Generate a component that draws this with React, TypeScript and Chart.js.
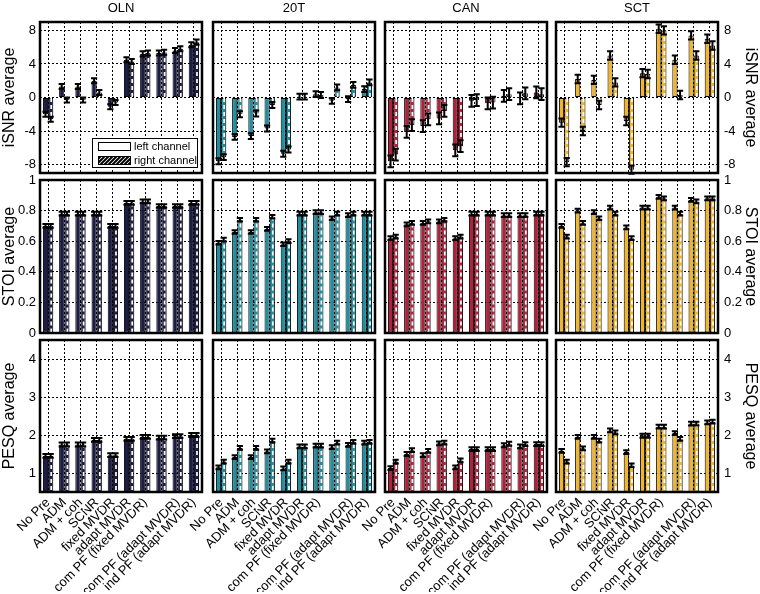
import React, { useEffect, useRef } from 'react';
import { Chart, registerables } from 'chart.js';

Chart.register(...registerables);

const FONT = "'Liberation Sans', Arial, Helvetica, sans-serif";

// ---------- data ----------
const categories = [
  'No Pre', 'ADM', 'ADM + coh', 'SCNR', 'fixed MVDR', 'adapt MVDR',
  'com PF (fixed MVDR)', '', 'com PF (adapt MVDR)', 'ind PF (adapt MVDR)',
];
const conditions = ['OLN', '20T', 'CAN', 'SCT'];
const conditionColors = ['#1c1c46', '#1f8e9e', '#b2203c', '#f0b52c'];
const legendLabels = ['left channel', 'right channel'];

const metricLabels = ['iSNR average', 'STOI average', 'PESQ average'];
const metricMin = [-9, 0, 0.5];
const metricMax = [9, 1, 4.5];
const isnrTicks = [-8, -4, 0, 4, 8];
const stoiTicks = [0, 0.2, 0.4, 0.6, 0.8, 1];
const pesqTicks = [1, 2, 3, 4];

// iSNR
const isnrOLN_L = [-2.0, 1.3, 1.3, 2.0, -1.1, 4.5, 5.2, 5.3, 5.6, 6.3];
const isnrOLN_R = [-2.6, -0.3, -0.3, 0.6, -0.6, 4.3, 5.3, 5.4, 5.8, 6.6];
const isnr20T_L = [-7.6, -4.7, -4.6, -3.7, -6.7, 0.1, 0.4, -0.4, -0.2, 1.0];
const isnr20T_R = [-7.1, -2.0, -1.9, -0.9, -6.2, 0.1, 0.3, 1.2, 1.5, 1.8];
const isnrCAN_L = [-7.6, -4.1, -3.4, -2.5, -6.3, -0.4, -0.7, 0.2, -0.1, 0.6];
const isnrCAN_R = [-6.8, -3.3, -2.6, -1.6, -5.8, -0.3, -0.6, 0.4, 0.5, 0.4];
const isnrSCT_L = [-3.0, 2.2, 2.1, 5.0, -2.8, 2.9, 8.2, 4.5, 7.4, 7.0];
const isnrSCT_R = [-7.7, -4.0, -0.9, 1.8, -8.6, 2.8, 8.0, 0.3, 5.0, 6.2];

// STOI
const stoiOLN_L = [0.70, 0.78, 0.78, 0.78, 0.70, 0.85, 0.86, 0.83, 0.83, 0.85];
const stoiOLN_R = [0.70, 0.78, 0.78, 0.78, 0.70, 0.85, 0.86, 0.83, 0.83, 0.85];
const stoi20T_L = [0.59, 0.66, 0.66, 0.68, 0.58, 0.78, 0.79, 0.75, 0.77, 0.78];
const stoi20T_R = [0.61, 0.74, 0.74, 0.76, 0.60, 0.78, 0.79, 0.78, 0.78, 0.78];
const stoiCAN_L = [0.62, 0.71, 0.72, 0.73, 0.62, 0.78, 0.78, 0.77, 0.77, 0.78];
const stoiCAN_R = [0.63, 0.72, 0.73, 0.74, 0.63, 0.78, 0.78, 0.77, 0.77, 0.78];
const stoiSCT_L = [0.70, 0.80, 0.79, 0.82, 0.69, 0.82, 0.89, 0.82, 0.87, 0.88];
const stoiSCT_R = [0.63, 0.72, 0.75, 0.78, 0.62, 0.82, 0.88, 0.78, 0.86, 0.88];

// PESQ
const pesqOLN_L = [1.45, 1.75, 1.75, 1.87, 1.47, 1.90, 1.95, 1.93, 1.97, 2.00];
const pesqOLN_R = [1.45, 1.75, 1.75, 1.87, 1.47, 1.90, 1.95, 1.93, 1.97, 2.00];
const pesq20T_L = [1.15, 1.42, 1.42, 1.57, 1.12, 1.70, 1.72, 1.68, 1.74, 1.80];
const pesq20T_R = [1.30, 1.66, 1.66, 1.85, 1.30, 1.70, 1.72, 1.80, 1.82, 1.82];
const pesqCAN_L = [1.13, 1.50, 1.47, 1.78, 1.15, 1.63, 1.63, 1.73, 1.70, 1.76];
const pesqCAN_R = [1.30, 1.60, 1.58, 1.80, 1.33, 1.63, 1.63, 1.77, 1.76, 1.76];
const pesqSCT_L = [1.58, 1.95, 1.95, 2.12, 1.55, 1.98, 2.22, 2.05, 2.30, 2.33];
const pesqSCT_R = [1.30, 1.65, 1.85, 2.07, 1.20, 1.98, 2.22, 1.90, 2.30, 2.35];

// error bar half-lengths per panel (row = metric, col = condition)
const isnrErr = [0.3, 0.35, 0.7, 0.5];
const stoiErr = [0.012, 0.012, 0.012, 0.012];
const pesqErr = [0.05, 0.05, 0.05, 0.05];

const metricTicks = [isnrTicks, stoiTicks, pesqTicks];
const metricErr = [isnrErr, stoiErr, pesqErr];
const seriesL = [
  [isnrOLN_L, isnr20T_L, isnrCAN_L, isnrSCT_L],
  [stoiOLN_L, stoi20T_L, stoiCAN_L, stoiSCT_L],
  [pesqOLN_L, pesq20T_L, pesqCAN_L, pesqSCT_L],
];
const seriesR = [
  [isnrOLN_R, isnr20T_R, isnrCAN_R, isnrSCT_R],
  [stoiOLN_R, stoi20T_R, stoiCAN_R, stoiSCT_R],
  [pesqOLN_R, pesq20T_R, pesqCAN_R, pesqSCT_R],
];

// ---------- layout ----------
const W = 760;
const H = 594;
const COL_LEFT = [40, 213, 385, 556];
const PANEL_W = 162;
const ROW_TOP = [22, 180, 340];
const ROW_BOTTOM = [173, 333, 492];
const AXW_L = 40;
const AXW_R = 42;

const decoPlugin = {
  id: 'deco',
  afterDatasetsDraw(chart: any, _args: any, opts: any) {
    const ctx = chart.ctx;
    const yS = chart.scales.y;
    // hatch of right channel bars
    const metaR = chart.getDatasetMeta(1);
    ctx.save();
    ctx.strokeStyle = '#ffffff';
    ctx.lineWidth = 1.7;
    ctx.setLineDash([4, 3]);
    metaR.data.forEach((el: any) => {
      ctx.beginPath();
      ctx.moveTo(el.x + 0.5, el.base);
      ctx.lineTo(el.x + 0.5, el.y);
      ctx.stroke();
    });
    ctx.restore();
    // error bars
    ctx.save();
    ctx.strokeStyle = '#000';
    ctx.lineWidth = 2;
    ctx.setLineDash([]);
    [0, 1].forEach((d) => {
      const meta = chart.getDatasetMeta(d);
      const vals = chart.data.datasets[d].data;
      meta.data.forEach((el: any, j: number) => {
        const v = vals[j];
        const e = opts.err;
        const y1 = yS.getPixelForValue(v - e);
        const y2 = yS.getPixelForValue(v + e);
        const hw = el.width / 2 + 0.5;
        ctx.beginPath();
        ctx.moveTo(el.x, y1);
        ctx.lineTo(el.x, y2);
        ctx.moveTo(el.x - hw, y1);
        ctx.lineTo(el.x + hw, y1);
        ctx.moveTo(el.x - hw, y2);
        ctx.lineTo(el.x + hw, y2);
        ctx.stroke();
      });
    });
    ctx.restore();
  },
  afterDraw(chart: any, _args: any, opts: any) {
    const ctx = chart.ctx;
    const a = chart.chartArea;
    ctx.save();
    ctx.strokeStyle = '#000';
    ctx.lineWidth = 2.5;
    ctx.strokeRect(a.left, a.top, a.right - a.left, a.bottom - a.top);
    if (opts.title) {
      ctx.fillStyle = '#000';
      ctx.font = `13px ${FONT}`;
      ctx.textAlign = 'center';
      ctx.textBaseline = 'middle';
      ctx.fillText(opts.title, (a.left + a.right) / 2, 8);
    }
    if (opts.legend) {
      const bx = a.right - 110;
      const by = a.bottom - 35;
      const bw = 105;
      const bh = 29;
      ctx.fillStyle = '#fff';
      ctx.fillRect(bx, by, bw, bh);
      ctx.lineWidth = 1;
      ctx.strokeStyle = '#000';
      ctx.strokeRect(bx + 0.5, by + 0.5, bw, bh);
      // swatch 1
      ctx.strokeRect(bx + 6.5, by + 4.5, 32, 8);
      // swatch 2 hatched
      const sx = bx + 6.5;
      const sy = by + 18.5;
      ctx.save();
      ctx.beginPath();
      ctx.rect(sx, sy, 32, 8);
      ctx.clip();
      ctx.lineWidth = 2;
      for (let k = -10; k < 44; k += 4) {
        ctx.beginPath();
        ctx.moveTo(sx + k, sy + 8);
        ctx.lineTo(sx + k + 8, sy);
        ctx.stroke();
      }
      ctx.restore();
      ctx.strokeRect(sx, sy, 32, 8);
      ctx.fillStyle = '#000';
      ctx.font = `11px ${FONT}`;
      ctx.textAlign = 'left';
      ctx.textBaseline = 'middle';
      ctx.fillText(legendLabels[0], bx + 42, by + 9);
      ctx.fillText(legendLabels[1], bx + 42, by + 23);
    }
    ctx.restore();
  },
};

function makeConfig(row: number, col: number): any {
  const left = COL_LEFT[col];
  const right = left + PANEL_W;
  const top = ROW_TOP[row];
  const bottom = ROW_BOTTOM[row];
  const isLeft = col === 0;
  const isRight = col === 3;
  const isBottom = row === 2;
  const XH = isBottom ? 100 : 0;
  const ticks = metricTicks[row];
  const color = conditionColors[col];
  const showY = isLeft || isRight;
  return {
    type: 'bar',
    data: {
      labels: categories,
      datasets: [
        {
          label: legendLabels[0],
          data: seriesL[row][col],
          backgroundColor: color,
          borderColor: '#000',
          borderWidth: 1,
          borderSkipped: false,
          categoryPercentage: 0.64,
          barPercentage: 1,
        },
        {
          label: legendLabels[1],
          data: seriesR[row][col],
          backgroundColor: color,
          borderColor: '#000',
          borderWidth: 1,
          borderSkipped: false,
          categoryPercentage: 0.64,
          barPercentage: 1,
        },
      ],
    },
    options: {
      responsive: false,
      animation: false,
      events: [],
      layout: {
        padding: {
          top,
          bottom: H - bottom - XH,
          left: isRight ? left : left - AXW_L,
          right: isRight ? W - right - AXW_R : W - right,
        },
      },
      plugins: {
        legend: { display: false },
        tooltip: { enabled: false },
        deco: {
          err: metricErr[row][col],
          title: row === 0 ? conditions[col] : '',
          legend: row === 0 && col === 0,
        },
      },
      scales: {
        x: {
          type: 'category',
          offset: true,
          grid: { color: '#000', lineWidth: 1, offset: false, drawTicks: false },
          border: { display: false, dash: [2, 2] },
          ticks: {
            display: isBottom,
            autoSkip: false,
            maxRotation: 45,
            minRotation: 45,
            color: '#000',
            font: { family: FONT, size: 13 },
            padding: 3,
          },
          afterFit: (s: any) => {
            s.height = XH;
            s.paddingLeft = 0;
            s.paddingRight = 0;
          },
        },
        y: {
          type: 'linear',
          position: isRight ? 'right' : 'left',
          min: metricMin[row],
          max: metricMax[row],
          afterBuildTicks: (s: any) => {
            s.ticks = ticks.map((v) => ({ value: v }));
          },
          afterFit: (s: any) => {
            s.width = isRight ? AXW_R : AXW_L;
            s.paddingTop = 0;
            s.paddingBottom = 0;
          },
          grid: { color: '#000', lineWidth: 1, drawTicks: false },
          border: { display: false, dash: [2, 2] },
          ticks: {
            display: showY,
            color: '#000',
            font: { family: FONT, size: 13 },
            padding: isRight ? 6 : 4,
            callback: (v: any) => String(v),
          },
          title: {
            display: showY,
            text: metricLabels[row],
            color: '#000',
            font: { family: FONT, size: 16 },
            padding: { top: 0, bottom: 0 },
          },
        },
      },
    },
    plugins: [decoPlugin],
  };
}

const PANELS: { row: number; col: number }[] = [];
for (let r = 0; r < 3; r++) for (let c = 0; c < 4; c++) PANELS.push({ row: r, col: c });

export default function App() {
  const refs = useRef<(HTMLCanvasElement | null)[]>([]);
  useEffect(() => {
    const charts: Chart[] = [];
    PANELS.forEach((p, i) => {
      const cv = refs.current[i];
      if (cv) charts.push(new Chart(cv, makeConfig(p.row, p.col)));
    });
    return () => charts.forEach((c) => c.destroy());
  }, []);
  return (
    <div style={{ position: 'absolute', left: 0, top: 0, width: W, height: H, background: '#fff' }}>
      {PANELS.map((p, i) => (
        <canvas
          key={i}
          ref={(el) => {
            refs.current[i] = el;
          }}
          width={W}
          height={H}
          style={{ position: 'absolute', left: 0, top: 0, width: W, height: H }}
        />
      ))}
    </div>
  );
}
